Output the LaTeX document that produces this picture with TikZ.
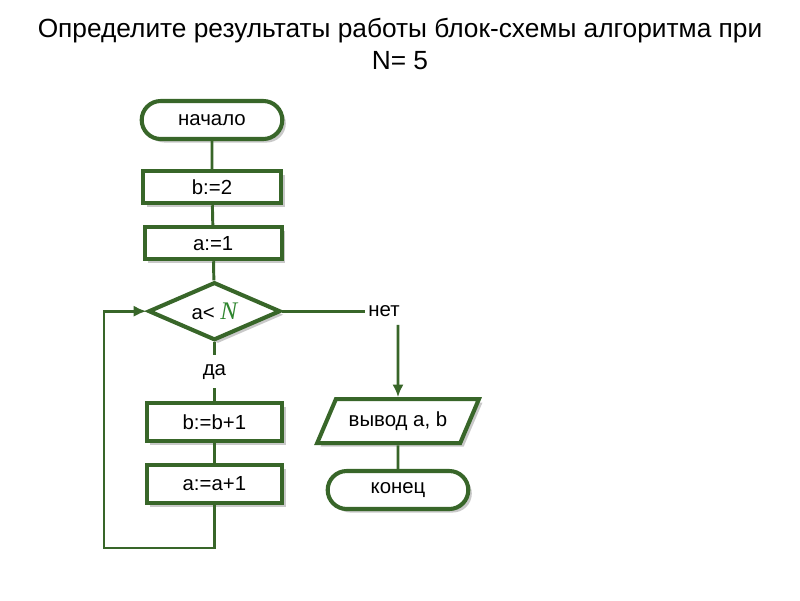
\documentclass[tikz,border=0pt]{standalone}
\usepackage{fontspec}
\setmainfont{Liberation Sans}
\newfontfamily\serifN{Liberation Serif}
\usetikzlibrary{arrows.meta,shapes.geometric,shapes.misc,shadows}
\definecolor{LineClr}{rgb}{0.22,0.40,0.16}
\definecolor{NClr}{rgb}{0.18,0.52,0.18}

\tikzset{
  shade/.style={drop shadow={shadow xshift=2.5pt,shadow yshift=-2.5pt,fill=black!30,opacity=0.7}},
  block/.style={draw=LineClr,line width=2.9pt,fill=white,shade,font=\fontsize{14.5}{16}\selectfont},
  term/.style={block,rounded rectangle,minimum width=3.75cm,minimum height=0.95cm},
  proc/.style={block,rectangle,minimum height=0.8cm},
  cond/.style={block,diamond,aspect=2.3,minimum width=3.3cm,minimum height=1.45cm,inner sep=0pt},
  io/.style={block,trapezium,trapezium left angle=60,trapezium right angle=120,trapezium stretches=true,minimum width=4.05cm,minimum height=1.1cm},
  link/.style={draw=LineClr,line width=2.1pt},
  tag/.style={font=\fontsize{14.5}{16}\selectfont},
  tip/.style={-{Latex[length=9pt,width=8pt]}},
}

\begin{document}
\begin{tikzpicture}
\useasboundingbox (0,0) rectangle (20,-15);

\node[font=\fontsize{18.7}{23}\selectfont,align=center] (title) at (10,-1.1)
  {Определите результаты работы блок-схемы алгоритма при\\N= 5};

\node[term] (start) at (5.3,-3.0) {начало};
\node[proc,minimum width=3.45cm] (b2) at (5.3,-4.68) {b:=2};
\node[proc,minimum width=3.42cm] (a1) at (5.33,-6.08) {a:=1};
\node[cond] (test) at (5.36,-7.78) {a< \textcolor{NClr}{\serifN\itshape\fontsize{18}{18}\selectfont N}};
\node[proc,minimum width=3.38cm,minimum height=0.95cm] (bb) at (5.36,-10.55) {b:=b+1};
\node[proc,minimum width=3.38cm,minimum height=0.95cm] (aa) at (5.36,-12.1) {a:=a+1};
\node[io] (out) at (9.95,-10.53) {вывод a, b};
\node[term] (stop) at (9.95,-12.25) {конец};

\node[tag] (no) at (9.6,-7.78) {нет};
\node[tag] (yes) at (5.36,-9.3) {да};

\coordinate (noend) at (9.12,-7.78);
\coordinate (nodown) at (9.95,-8.12);
\coordinate (yesend) at (5.36,-8.88);
\coordinate (yestop) at (5.36,-9.7);
\coordinate (loopa) at (5.36,-13.7);
\coordinate (loopb) at (2.6,-13.7);
\coordinate (loopc) at (2.6,-7.78);

\path[link] (start) -- (b2);
\path[link] (b2) -- (a1);
\path[link] (a1) -- (test);
\path[link] (test.east) -- (noend);
\path[link,tip] (nodown) -- (out.north);
\path[link] (test.south) -- (yesend);
\path[link] (yestop) -- (bb.north);
\path[link] (bb) -- (aa);
\path[link,tip] (aa.south) -- (loopa) -- (loopb) -- (loopc) -- (test.west);
\path[link] (out) -- (stop);

\end{tikzpicture}
\end{document}
